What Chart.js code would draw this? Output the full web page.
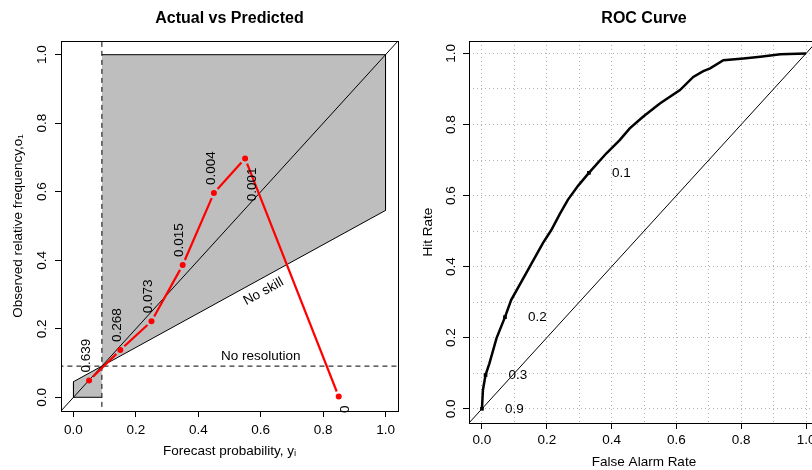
<!DOCTYPE html>
<html>
<head>
<meta charset="utf-8">
<script src="https://cdn.jsdelivr.net/npm/chart.js@4.4.1/dist/chart.umd.min.js"></script>
<style>
  html, body { margin: 0; padding: 0; background: #fff; overflow: hidden; }
  #wrap { position: relative; width: 812px; height: 470px; overflow: hidden; }
  #rel { position: absolute; left: 0; top: 0; }
  #roc { position: absolute; left: 406px; top: 0; }
</style>
</head>
<body>
<div id="wrap">
  <canvas id="rel" width="406" height="470"></canvas>
  <canvas id="roc" width="420" height="470"></canvas>
</div>
<script>
// reliability (attributes) diagram
const relX = [0.05, 0.15, 0.25, 0.35, 0.45, 0.55, 0.85]
const relY = [0.049, 0.138, 0.222, 0.386, 0.596, 0.697, 0.002]
const relFreq = ['0.639', '0.268', '0.073', '0.015', '0.004', '0.001', '0']
const obar = 0.091
const relTicks = [0, 0.2, 0.4, 0.6, 0.8, 1.0]

// ROC curve
const rocFar = [0, 0.003, 0.011, 0.023, 0.045, 0.071, 0.090, 0.136, 0.188, 0.214, 0.240, 0.265, 0.297, 0.330,
  0.384, 0.425, 0.456, 0.497, 0.549, 0.611, 0.652, 0.683, 0.704, 0.745, 0.807, 0.859, 0.921, 1.0]
const rocHit = [0, 0.053, 0.095, 0.128, 0.199, 0.258, 0.306, 0.381, 0.466, 0.503, 0.548, 0.588, 0.628, 0.664,
  0.719, 0.756, 0.789, 0.822, 0.859, 0.897, 0.934, 0.950, 0.958, 0.981, 0.986, 0.991, 0.998, 1.0]
const rocPtFar = [0.330, 0.071, 0.011, 0]
const rocPtHit = [0.664, 0.258, 0.095, 0]
const rocPtLabels = ['0.1', '0.2', '0.3', '0.9']
const rocGrid = [0, 0.1, 0.2, 0.3, 0.4, 0.5, 0.6, 0.7, 0.8, 0.9, 1.0]

Chart.defaults.font.family = '"Liberation Sans", Arial, Helvetica, sans-serif'
Chart.defaults.font.size = 13.5
Chart.defaults.color = '#000'
Chart.defaults.animation = false

const FONT = '13.5px "Liberation Sans", Arial, sans-serif'
const TITLE_FONT = 'bold 16px "Liberation Sans", Arial, sans-serif'

function fmt(v) {
  return v.toFixed(1)
}

function toPoints(xs, ys) {
  return xs.map((x, i) => ({ x: x, y: ys[i] }))
}

function lineSet(label, data, extra) {
  return Object.assign({
    label: label,
    data: data,
    showLine: true,
    borderColor: '#000',
    borderWidth: 1,
    pointRadius: 0,
    clip: 0
  }, extra)
}

function drawBoxAndTitle(chart, title) {
  const ctx = chart.ctx
  const a = chart.chartArea
  ctx.save()
  ctx.strokeStyle = '#000'
  ctx.lineWidth = 1
  ctx.strokeRect(Math.round(a.left) + 0.5, Math.round(a.top) + 0.5,
    Math.round(a.right - a.left), Math.round(a.bottom - a.top))
  ctx.font = TITLE_FONT
  ctx.fillStyle = '#000'
  ctx.textAlign = 'center'
  ctx.textBaseline = 'middle'
  ctx.fillText(title, (a.left + a.right) / 2, 19)
  ctx.restore()
}

const relPlugin = {
  id: 'relExtras',
  afterDatasetsDraw(chart) {
    const ctx = chart.ctx
    const xs = chart.scales.x
    const ys = chart.scales.y
    const pts = chart.getDatasetMeta(0).data

    // red connecting line, broken around the points
    ctx.save()
    ctx.strokeStyle = 'red'
    ctx.lineWidth = 2.2
    const gap = 5.5
    for (let i = 0; i < pts.length - 1; i++) {
      const p = pts[i], q = pts[i + 1]
      const dx = q.x - p.x, dy = q.y - p.y
      const len = Math.sqrt(dx * dx + dy * dy)
      if (len <= 2 * gap) continue
      const ux = dx / len, uy = dy / len
      ctx.beginPath()
      ctx.moveTo(p.x + ux * gap, p.y + uy * gap)
      ctx.lineTo(q.x - ux * gap, q.y - uy * gap)
      ctx.stroke()
    }

    // forecast frequency labels
    ctx.font = FONT
    ctx.fillStyle = '#000'
    ctx.textBaseline = 'middle'
    pts.forEach((p, i) => {
      const next = relY[i + 1]
      const below = next !== undefined ? next < relY[i] : relY[i] < relY[i - 1]
      ctx.save()
      if (below) {
        ctx.translate(p.x + 7, p.y + 9)
        ctx.textAlign = 'right'
      } else {
        ctx.translate(p.x - 3, p.y - 8)
        ctx.textAlign = 'left'
      }
      ctx.rotate(-Math.PI / 2)
      ctx.fillText(relFreq[i], 0, 0)
      ctx.restore()
    })

    // reference line labels
    ctx.textAlign = 'center'
    ctx.fillText('No resolution', xs.getPixelForValue(0.6), ys.getPixelForValue(obar) - 9.5)

    const x0 = xs.getPixelForValue(0), y0 = ys.getPixelForValue(obar / 2)
    const x1 = xs.getPixelForValue(1), y1 = ys.getPixelForValue((1 + obar) / 2)
    const ang = Math.atan2(y1 - y0, x1 - x0)
    ctx.save()
    ctx.translate(xs.getPixelForValue(0.59), ys.getPixelForValue((0.59 + obar) / 2))
    ctx.rotate(ang)
    ctx.fillText('No skill', 0, 12.5)
    ctx.restore()
    ctx.restore()

    drawBoxAndTitle(chart, 'Actual vs Predicted')
  }
}

const relChart = new Chart(document.getElementById('rel').getContext('2d'), {
  type: 'scatter',
  data: {
    datasets: [
      {
        label: 'Observed',
        data: toPoints(relX, relY),
        pointRadius: 3,
        pointBackgroundColor: 'red',
        pointBorderWidth: 0,
        showLine: false,
        order: 1
      },
      lineSet('Perfect', [{ x: -1, y: -1 }, { x: 2, y: 2 }], { order: 3 }),
      lineSet('No resolution', [{ x: -1, y: obar }, { x: 2, y: obar }], { borderDash: [5, 4], order: 2 }),
      lineSet('Climatology', [{ x: obar, y: -1 }, { x: obar, y: 2 }], { borderDash: [5, 4], order: 2 }),
      lineSet('Skill outline', [
        { x: obar, y: 1 }, { x: 1, y: 1 }, { x: 1, y: (1 + obar) / 2 },
        { x: 0, y: obar / 2 }, { x: 0, y: 0 }, { x: obar, y: 0 }
      ], { order: 4 }),
      lineSet('Skill left', [{ x: 0, y: obar / 2 }, { x: obar, y: obar }], {
        fill: { value: 0 }, backgroundColor: '#bebebe', borderColor: 'rgba(0,0,0,0)', order: 5
      }),
      lineSet('Skill right', [{ x: obar, y: obar }, { x: 1, y: (1 + obar) / 2 }], {
        fill: { value: 1 }, backgroundColor: '#bebebe', borderColor: 'rgba(0,0,0,0)', order: 5
      })
    ]
  },
  options: {
    responsive: false,
    layout: { padding: { left: 0, right: 8, top: 41, bottom: 0 } },
    plugins: { legend: { display: false }, tooltip: { enabled: false } },
    scales: {
      x: {
        type: 'linear',
        min: -0.04,
        max: 1.04,
        afterBuildTicks: (s) => { s.ticks = relTicks.map(v => ({ value: v })) },
        afterFit: (s) => { s.height = 59 },
        ticks: { padding: 5, autoSkip: false, maxRotation: 0, callback: fmt },
        grid: { drawOnChartArea: false, drawTicks: true, tickLength: 6, tickColor: '#000', tickWidth: 1 },
        border: { display: false },
        title: { display: true, text: 'Forecast probability, yᵢ', padding: { top: 0, bottom: 11 } }
      },
      y: {
        type: 'linear',
        min: -0.04,
        max: 1.04,
        afterBuildTicks: (s) => { s.ticks = relTicks.map(v => ({ value: v })) },
        afterFit: (s) => { s.width = 61 },
        ticks: { padding: 3.6, autoSkip: false, minRotation: 90, maxRotation: 90, crossAlign: 'center', callback: fmt },
        grid: { drawOnChartArea: false, drawTicks: true, tickLength: 6, tickColor: '#000', tickWidth: 1 },
        border: { display: false },
        title: { display: true, text: 'Observed relative frequency,o₁', padding: { top: 10, bottom: 0 } }
      }
    }
  },
  plugins: [relPlugin]
})

const rocPlugin = {
  id: 'rocExtras',
  afterDatasetsDraw(chart) {
    const ctx = chart.ctx
    const xs = chart.scales.x
    const ys = chart.scales.y
    ctx.save()
    ctx.font = FONT
    ctx.fillStyle = '#000'
    ctx.textAlign = 'center'
    ctx.textBaseline = 'middle'
    rocPtLabels.forEach((t, i) => {
      ctx.fillText(t, xs.getPixelForValue(rocPtFar[i] + 0.1), ys.getPixelForValue(rocPtHit[i]))
    })
    ctx.restore()
    drawBoxAndTitle(chart, 'ROC Curve')
  }
}

function rocTickColor(c) {
  return c.index % 2 === 0 ? '#000' : 'rgba(0,0,0,0)'
}

function rocLabel(v, i) {
  return i % 2 === 0 ? fmt(v) : ''
}

const rocChart = new Chart(document.getElementById('roc').getContext('2d'), {
  type: 'scatter',
  data: {
    datasets: [
      {
        label: 'Thresholds',
        data: toPoints(rocPtFar, rocPtHit),
        pointStyle: 'rect',
        pointRadius: 2.6,
        pointBackgroundColor: '#000',
        pointBorderWidth: 0,
        showLine: false,
        order: 0
      },
      lineSet('ROC', toPoints(rocFar, rocHit), { borderWidth: 2.5, order: 1, clip: 4 }),
      lineSet('No skill', [{ x: -1, y: -1 }, { x: 2, y: 2 }], { order: 2 })
    ]
  },
  options: {
    responsive: false,
    layout: { padding: { left: 0, right: 7, top: 41, bottom: 0 } },
    plugins: { legend: { display: false }, tooltip: { enabled: false } },
    scales: {
      x: {
        type: 'linear',
        min: -0.04,
        max: 1.04,
        afterBuildTicks: (s) => { s.ticks = rocGrid.map(v => ({ value: v })) },
        afterFit: (s) => { s.height = 47 },
        ticks: { padding: 3, autoSkip: false, maxRotation: 0, callback: rocLabel },
        grid: { color: '#b4b4b4', lineWidth: 1, drawTicks: true, tickLength: 6, tickColor: rocTickColor, tickWidth: 1 },
        border: { display: false, dash: [1, 3] },
        title: { display: true, text: 'False Alarm Rate', padding: { top: 0, bottom: 0 } }
      },
      y: {
        type: 'linear',
        min: -0.04,
        max: 1.035,
        afterBuildTicks: (s) => { s.ticks = rocGrid.map(v => ({ value: v })) },
        afterFit: (s) => { s.width = 63 },
        ticks: { padding: 2.2, autoSkip: false, minRotation: 90, maxRotation: 90, crossAlign: 'center', callback: rocLabel },
        grid: { color: '#b4b4b4', lineWidth: 1, drawTicks: true, tickLength: 6, tickColor: rocTickColor, tickWidth: 1 },
        border: { display: false, dash: [1, 3] },
        title: { display: true, text: 'Hit Rate', padding: { top: 14, bottom: 0 } }
      }
    }
  },
  plugins: [rocPlugin]
})
</script>
</body>
</html>
